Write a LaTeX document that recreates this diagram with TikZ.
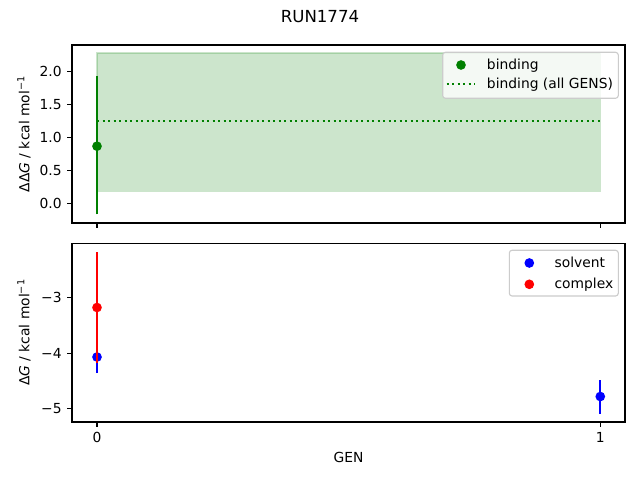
\documentclass[tikz,border=0pt]{standalone}
\usepackage{fontspec}
\setmainfont{DejaVu Sans}
\usepackage{xcolor}
\usepackage{tikz}

\definecolor{mplgreen}{HTML}{008000}
\definecolor{mplblue}{HTML}{0000FF}
\definecolor{mplred}{HTML}{FF0000}
\definecolor{legendedge}{HTML}{CCCCCC}

\begin{document}
\begin{tikzpicture}[x=0.01in, y=-0.01in,
    spine/.style={draw=black, line width=0.8pt},
    tickline/.style={line width=0.8pt},
    errbar/.style={line width=1.5pt},
    datapoint/.style={circle, inner sep=0pt, minimum size=7pt},
    label10/.style={font=\fontsize{10}{12}\selectfont, inner sep=0pt},
    legendbox/.style={draw=legendedge, fill=white, fill opacity=0.8, rounded corners=2pt, line width=0.8pt}]
     \fill[white] (0,0) rectangle (640,480);
     \useasboundingbox (0,0) rectangle (640,480);

     % top panel: binding
     \begin{scope}[shift={(97,203.8)}, x=5.03in, y=0.6617in]
     \fill[mplgreen, fill opacity=0.2] (0,0.19) rectangle (1,2.28);
     \draw[mplgreen, draw opacity=0.2, line width=1pt] (0,0.19) rectangle (1,2.28);
     \draw[mplgreen, line width=1.5pt, dash pattern=on 1.5pt off 2.475pt] (0,1.25) -- (1,1.25);
     \draw[mplgreen, errbar] (0,-0.16) -- (0,1.93);
     \node[datapoint, fill=mplgreen] (bind0) at (0,0.87) {};
     \foreach \v [count=\i] in {0.0,0.5,1.0,1.5,2.0}
       \draw[tickline] (-0.05,\v) -- ++(-3.5pt,0) node[label10, anchor=east, xshift=-3.5pt] (ttick\i) {\v};
     \foreach \g in {0,1}
       \draw[tickline] (\g,-0.29) -- ++(0,-3.5pt);
     \end{scope}
     \draw[spine] (72,45) rectangle (625,223);

     % bottom panel: solvent and complex
     \begin{scope}[shift={(97,130.6)}, x=5.03in, y=0.556in]
     \draw[mplblue, errbar] (0,-4.36) -- (0,-3.78);
     \node[datapoint, fill=mplblue] (solv0) at (0,-4.07) {};
     \draw[mplblue, errbar] (1,-5.09) -- (1,-4.48);
     \node[datapoint, fill=mplblue] (solv1) at (1,-4.78) {};
     \draw[mplred, errbar] (0,-4.18) -- (0,-2.18);
     \node[datapoint, fill=mplred] (comp0) at (0,-3.18) {};
     \foreach \v [count=\i] in {-5,-4,-3}
       \draw[tickline] (-0.05,\v) -- ++(-3.5pt,0) node[label10, anchor=east, xshift=-3.5pt] (btick\i) {−\the\numexpr-\v\relax};
     \foreach \g [count=\i] in {0,1}
       \draw[tickline] (\g,-5.24) -- ++(0,-3.5pt) node[label10, anchor=north, yshift=-3.5pt] (xtick\i) {\g};
     \end{scope}
     \draw[spine] (72,243.5) rectangle (625,422);

     % legends
     \draw[legendbox] (442.7,52.3) rectangle (618.3,98.3);
     \node[datapoint, fill=mplgreen] (legbind) at (461,65) {};
     \draw[mplgreen, line width=1.5pt, dash pattern=on 1.5pt off 2.475pt] (446.7,84) -- (475,84);
     \node[label10, anchor=west, text height=7.5pt, text depth=0pt] (legbindtxt) at (486.7,64.5) {binding};
     \node[label10, anchor=west, text height=7.5pt, text depth=0pt] (legalltxt) at (486.7,83.5) {binding (all GENS)};

     \draw[legendbox] (509.3,250.3) rectangle (618.3,296);
     \node[datapoint, fill=mplblue] (legsolv) at (529.3,263) {};
     \node[datapoint, fill=mplred] (legcomp) at (529.3,284.3) {};
     \node[label10, anchor=west, text height=7.5pt, text depth=0pt] (legsolvtxt) at (554.3,262.5) {solvent};
     \node[label10, anchor=west, text height=7.5pt, text depth=0pt] (legcomptxt) at (554.3,283.8) {complex};

     % titles and axis labels
     \node[font=\fontsize{12}{14}\selectfont, inner sep=0pt] (title) at (320,17) {RUN1774};
     \node[label10] (xlab) at (348.5,457) {GEN};
     \node[label10, rotate=90] (ylabtop) at (24,134) {ΔΔ\textit{G} / kcal mol\textsuperscript{−1}};
     \node[label10, rotate=90] (ylabbot) at (24,332.5) {Δ\textit{G} / kcal mol\textsuperscript{−1}};
\end{tikzpicture}
\end{document}
